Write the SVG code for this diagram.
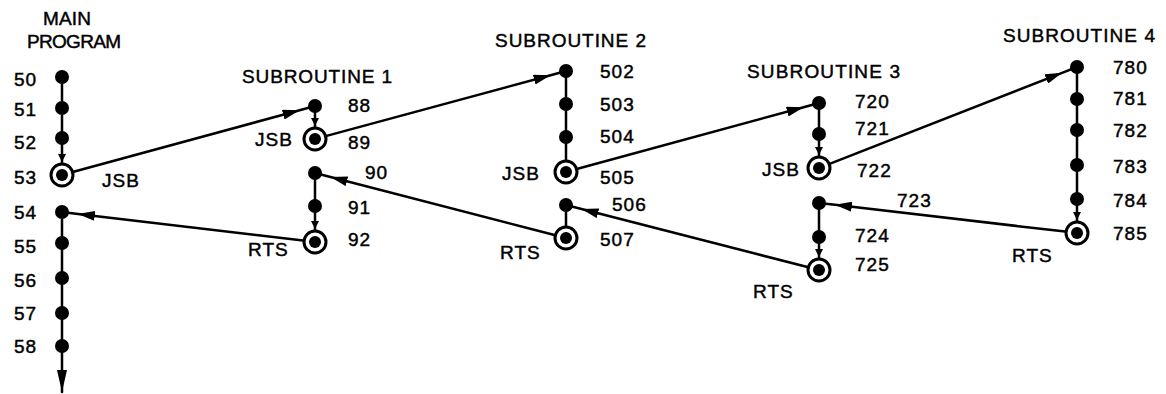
<svg xmlns="http://www.w3.org/2000/svg" width="1166" height="394" viewBox="0 0 1166 394">
<style>
.ln{stroke:#000;stroke-width:2.5;fill:none;stroke-linecap:round}
.dot{fill:#000}
.ring{fill:#fff;stroke:#000;stroke-width:3}
text{font-family:"Liberation Sans",Arial,sans-serif;font-size:19px;letter-spacing:1px;fill:#000;stroke:#000;stroke-width:0.45}
</style>
<defs>
<marker id="ah" viewBox="0 0 17 10" refX="17" refY="5" markerWidth="17" markerHeight="10" markerUnits="userSpaceOnUse" orient="auto"><path d="M0,0 L17,5 L0,10 z" fill="#000"/></marker>
<marker id="sa" viewBox="0 0 8 8" refX="8" refY="4" markerWidth="8" markerHeight="8" markerUnits="userSpaceOnUse" orient="auto"><path d="M0,0 L8,4 L0,8 z" fill="#000"/></marker>
<marker id="ba" viewBox="0 0 22 10" refX="22" refY="5" markerWidth="22" markerHeight="10" markerUnits="userSpaceOnUse" orient="auto"><path d="M0,0 L22,5 L0,10 z" fill="#000"/></marker>
</defs>
<rect width="1166" height="394" fill="#fff"/>
<g id="connectors">
<polyline class="ln" points="73.6,171.8 299.6,110.2 315,106" marker-mid="url(#ah)"/>
<polyline class="ln" points="326.6,135.9 550.6,75.2 566,71" marker-mid="url(#ah)"/>
<polyline class="ln" points="577.6,168.8 803.6,107.2 819,103" marker-mid="url(#ah)"/>
<polyline class="ln" points="830.2,163.6 1062.1,72.8 1077,67" marker-mid="url(#ah)"/>
<polyline class="ln" points="1065.1,231.6 834.9,204.8 819,203" marker-mid="url(#ah)"/>
<polyline class="ln" points="807.4,267 581.5,209 566,205" marker-mid="url(#ah)"/>
<polyline class="ln" points="554.4,235 330.5,177 315,173" marker-mid="url(#ah)"/>
<polyline class="ln" points="303.1,240.6 77.9,213.9 62,212" marker-mid="url(#ah)"/>
<polyline class="ln" points="62,77 62,162 62,175" marker-mid="url(#sa)"/>
<line class="ln" x1="62" y1="212" x2="62" y2="392" marker-end="url(#ba)"/>
<polyline class="ln" points="315,106 315,126 315,139" marker-mid="url(#sa)"/>
<polyline class="ln" points="315,173 315,229 315,242" marker-mid="url(#sa)"/>
<line class="ln" x1="566" y1="71" x2="566" y2="172"/>
<line class="ln" x1="566" y1="205" x2="566" y2="238"/>
<polyline class="ln" points="819,103 819,155 819,168" marker-mid="url(#sa)"/>
<polyline class="ln" points="819,203 819,257 819,270" marker-mid="url(#sa)"/>
<polyline class="ln" points="1077,67 1077,220 1077,233" marker-mid="url(#sa)"/>
</g>
<g id="main-program">
<text x="43" y="25" textLength="49" lengthAdjust="spacing">MAIN</text>
<text x="27" y="48" textLength="95" lengthAdjust="spacing">PROGRAM</text>
<circle class="dot" cx="62" cy="77" r="7"/><text x="14" y="86">50</text>
<circle class="dot" cx="62" cy="108" r="7"/><text x="14" y="116">51</text>
<circle class="dot" cx="62" cy="138" r="7"/><text x="14" y="149">52</text>
<circle class="ring" cx="62" cy="175" r="11"/><circle class="dot" cx="62" cy="175" r="6"/><text x="14" y="184">53</text>
<text x="102" y="187">JSB</text>
<circle class="dot" cx="62" cy="212" r="7"/><text x="14" y="219">54</text>
<circle class="dot" cx="62" cy="243" r="7"/><text x="14" y="253">55</text>
<circle class="dot" cx="62" cy="278" r="7"/><text x="14" y="287">56</text>
<circle class="dot" cx="62" cy="313" r="7"/><text x="14" y="320">57</text>
<circle class="dot" cx="62" cy="346" r="7"/><text x="14" y="353">58</text>
</g>
<g id="subroutine-1">
<text x="242" y="83" textLength="151" lengthAdjust="spacing">SUBROUTINE 1</text>
<circle class="dot" cx="315" cy="106" r="7"/><text x="348" y="112">88</text>
<circle class="ring" cx="315" cy="139" r="11"/><circle class="dot" cx="315" cy="139" r="6"/><text x="348" y="149">89</text>
<text x="255" y="146">JSB</text>
<circle class="dot" cx="315" cy="173" r="7"/><text x="365" y="179">90</text>
<circle class="dot" cx="315" cy="206" r="7"/><text x="348" y="214">91</text>
<circle class="ring" cx="315" cy="242" r="11"/><circle class="dot" cx="315" cy="242" r="6"/><text x="348" y="246">92</text>
<text x="248" y="256">RTS</text>
</g>
<g id="subroutine-2">
<text x="495" y="47" textLength="152" lengthAdjust="spacing">SUBROUTINE 2</text>
<circle class="dot" cx="566" cy="71" r="7"/><text x="600" y="78">502</text>
<circle class="dot" cx="566" cy="104" r="7"/><text x="600" y="111">503</text>
<circle class="dot" cx="566" cy="137" r="7"/><text x="600" y="143">504</text>
<circle class="ring" cx="566" cy="172" r="11"/><circle class="dot" cx="566" cy="172" r="6"/><text x="600" y="184">505</text>
<text x="502" y="180">JSB</text>
<circle class="dot" cx="566" cy="205" r="7"/><text x="612" y="211">506</text>
<circle class="ring" cx="566" cy="238" r="11"/><circle class="dot" cx="566" cy="238" r="6"/><text x="600" y="246">507</text>
<text x="500" y="259">RTS</text>
</g>
<g id="subroutine-3">
<text x="747" y="78" textLength="154" lengthAdjust="spacing">SUBROUTINE 3</text>
<circle class="dot" cx="819" cy="103" r="7"/><text x="855" y="108">720</text>
<circle class="dot" cx="819" cy="134" r="7"/><text x="855" y="135">721</text>
<circle class="ring" cx="819" cy="168" r="11"/><circle class="dot" cx="819" cy="168" r="6"/><text x="857" y="177">722</text>
<text x="762" y="176">JSB</text>
<circle class="dot" cx="819" cy="203" r="7"/><text x="897" y="207">723</text>
<circle class="dot" cx="819" cy="237" r="7"/><text x="855" y="242">724</text>
<circle class="ring" cx="819" cy="270" r="11"/><circle class="dot" cx="819" cy="270" r="6"/><text x="855" y="271">725</text>
<text x="753" y="298">RTS</text>
</g>
<g id="subroutine-4">
<text x="1003" y="42" textLength="153" lengthAdjust="spacing">SUBROUTINE 4</text>
<circle class="dot" cx="1077" cy="67" r="7"/><text x="1113" y="74">780</text>
<circle class="dot" cx="1077" cy="99" r="7"/><text x="1113" y="105">781</text>
<circle class="dot" cx="1077" cy="130" r="7"/><text x="1113" y="137">782</text>
<circle class="dot" cx="1077" cy="165" r="7"/><text x="1113" y="173">783</text>
<circle class="dot" cx="1077" cy="199" r="7"/><text x="1113" y="207">784</text>
<circle class="ring" cx="1077" cy="233" r="11"/><circle class="dot" cx="1077" cy="233" r="6"/><text x="1113" y="240">785</text>
<text x="1012" y="262">RTS</text>
</g>
</svg>
